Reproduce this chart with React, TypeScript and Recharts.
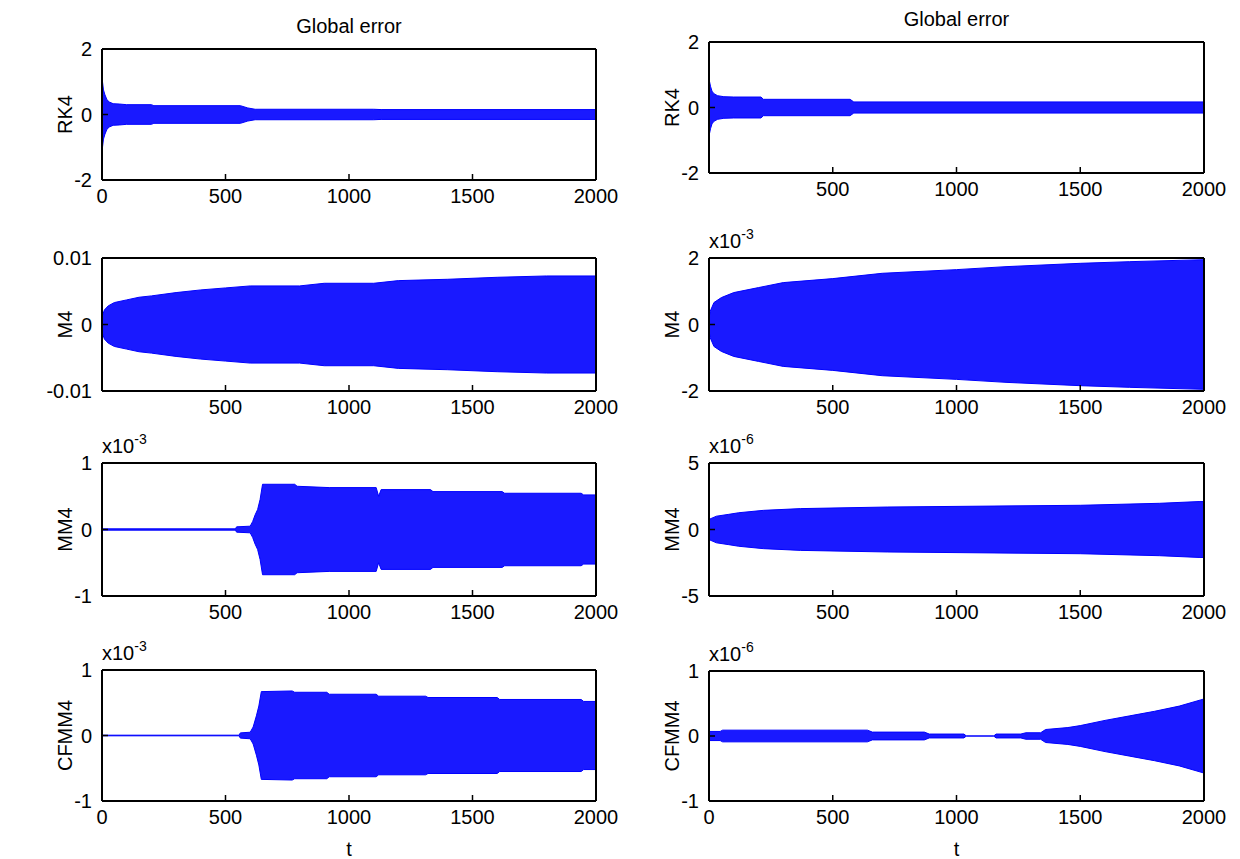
import { ComposedChart, Area, XAxis, YAxis, Label } from "recharts"

// envelope amplitude of the global error (values in axis units)
const tRk4Left = [0, 2, 6, 12, 20, 30, 45, 70, 100, 200, 210, 560, 590, 620, 1100, 1130, 2000]
const aRk4Left = [1.15, 1.0, 0.75, 0.6, 0.45, 0.38, 0.33, 0.32, 0.3, 0.3, 0.27, 0.27, 0.2, 0.16, 0.16, 0.15, 0.15]

const tRk4Right = [0, 2, 6, 12, 20, 35, 60, 100, 210, 220, 570, 585, 2000]
const aRk4Right = [0.9, 0.8, 0.65, 0.5, 0.42, 0.36, 0.33, 0.32, 0.32, 0.25, 0.25, 0.17, 0.17]

const tM4Left = [0, 10, 25, 50, 100, 150, 200, 300, 400, 500, 600, 800, 900, 1100, 1200, 1400, 1600, 1800, 2000]
const aM4Left = [0.0012, 0.0022, 0.0028, 0.0033, 0.0037, 0.0041, 0.0043, 0.0048, 0.0052, 0.0055, 0.0058, 0.0058, 0.0062, 0.0062, 0.0066, 0.0068, 0.0071, 0.0073, 0.0073]

const tM4Right = [0, 5, 20, 50, 100, 200, 300, 500, 700, 1000, 1200, 1500, 1700, 2000]
const aM4Right = [0.2, 0.4, 0.66, 0.81, 0.96, 1.11, 1.26, 1.38, 1.54, 1.65, 1.74, 1.84, 1.89, 1.95]

const tMm4Left = [0, 540, 545, 600, 610, 620, 630, 640, 650, 780, 790, 920, 1110, 1120, 1130, 1330, 1340, 1620, 1630, 1940, 1950, 2000]
const aMm4Left = [0.01, 0.01, 0.04, 0.05, 0.12, 0.22, 0.3, 0.45, 0.68, 0.68, 0.65, 0.63, 0.63, 0.5, 0.6, 0.6, 0.57, 0.57, 0.545, 0.545, 0.52, 0.52]

const tMm4Right = [0, 30, 80, 120, 220, 370, 720, 1500, 1820, 1980, 2000]
const aMm4Right = [0.76, 1.0, 1.14, 1.26, 1.44, 1.57, 1.69, 1.82, 1.97, 2.1, 2.1]

const tCfmm4Left = [0, 555, 560, 600, 612, 625, 635, 645, 770, 780, 910, 920, 1110, 1120, 1310, 1320, 1600, 1610, 1940, 1950, 2000]
const aCfmm4Left = [0.005, 0.005, 0.04, 0.05, 0.13, 0.3, 0.45, 0.67, 0.68, 0.66, 0.66, 0.63, 0.63, 0.6, 0.6, 0.58, 0.58, 0.55, 0.55, 0.52, 0.52]

const tCfmm4Right = [0, 45, 55, 640, 660, 870, 890, 1030, 1040, 1150, 1160, 1260, 1280, 1340, 1360, 1450, 1500, 1600, 1700, 1800, 1900, 2000]
const aCfmm4Right = [0.07, 0.07, 0.09, 0.09, 0.06, 0.06, 0.03, 0.03, 0, 0, 0.03, 0.03, 0.05, 0.05, 0.1, 0.13, 0.16, 0.24, 0.31, 0.38, 0.46, 0.57]

const xTicksFull = [0, 500, 1000, 1500, 2000]
const xTicksNoZero = [500, 1000, 1500, 2000]
const xTicksTop = [500, 1000, 1500]

const FONT = "'Liberation Sans', Arial, sans-serif"
const BLUE = "#0000ff"
const YAXIS_W = 74
const TOP = 45
const RIGHT = 35
const BOTTOM = 60

type PanelCfg = {
  x: number
  y: number
  w: number
  h: number
  t: number[]
  a: number[]
  domain: [number, number]
  yTicks: number[]
  yLabel: string
  xTicks: number[]
  title?: string
  exponent?: string
  xLabel?: string
}

const panels: PanelCfg[] = [
  { x: 102, y: 50, w: 493, h: 130, t: tRk4Left, a: aRk4Left, domain: [-2, 2], yTicks: [-2, 0, 2], yLabel: "RK4", xTicks: xTicksFull, title: "Global error" },
  { x: 709, y: 43, w: 494, h: 130, t: tRk4Right, a: aRk4Right, domain: [-2, 2], yTicks: [-2, 0, 2], yLabel: "RK4", xTicks: xTicksNoZero, title: "Global error" },
  { x: 102, y: 259, w: 493, h: 132, t: tM4Left, a: aM4Left, domain: [-0.01, 0.01], yTicks: [-0.01, 0, 0.01], yLabel: "M4", xTicks: xTicksNoZero },
  { x: 709, y: 259, w: 494, h: 132, t: tM4Right, a: aM4Right, domain: [-2, 2], yTicks: [-2, 0, 2], yLabel: "M4", xTicks: xTicksNoZero, exponent: "-3" },
  { x: 102, y: 464, w: 493, h: 132, t: tMm4Left, a: aMm4Left, domain: [-1, 1], yTicks: [-1, 0, 1], yLabel: "MM4", xTicks: xTicksNoZero, exponent: "-3" },
  { x: 709, y: 464, w: 494, h: 132, t: tMm4Right, a: aMm4Right, domain: [-5, 5], yTicks: [-5, 0, 5], yLabel: "MM4", xTicks: xTicksNoZero, exponent: "-6" },
  { x: 102, y: 671, w: 493, h: 130, t: tCfmm4Left, a: aCfmm4Left, domain: [-1, 1], yTicks: [-1, 0, 1], yLabel: "CFMM4", xTicks: xTicksFull, exponent: "-3", xLabel: "t" },
  { x: 709, y: 672, w: 494, h: 129, t: tCfmm4Right, a: aCfmm4Right, domain: [-1, 1], yTicks: [-1, 0, 1], yLabel: "CFMM4", xTicks: xTicksFull, exponent: "-6", xLabel: "t" },
]

function TopText({ viewBox, title, exponent }: any) {
  const { x, y, width, height } = viewBox
  const top = y + height
  return (
    <g>
      {title && (
        <text x={x + width / 2} y={top - 17} textAnchor="middle" fontSize={20} fill="#000" fontFamily={FONT}>
          {title}
        </text>
      )}
      {exponent && (
        <text x={x} y={top - 11} fontSize={20} fill="#000" fontFamily={FONT}>
          x10
          <tspan fontSize={14} dy={-9}>
            {exponent}
          </tspan>
        </text>
      )}
    </g>
  )
}

function BottomText({ viewBox, text }: any) {
  const { x, y, width } = viewBox
  return (
    <text x={x + width / 2} y={y + 55} textAnchor="middle" fontSize={20} fill="#000" fontFamily={FONT}>
      {text}
    </text>
  )
}

function Panel({ cfg }: { cfg: PanelCfg }) {
  const rows = cfg.t.map((t, i) => ({ t, band: [-cfg.a[i], cfg.a[i]] }))
  const axisLine = { stroke: "#000", strokeWidth: 2 }
  const tickLine = { stroke: "#000", strokeWidth: 1.5 }
  const tick = { fill: "#000", fontSize: 20, fontFamily: FONT }
  // the top x axis and right y axis take 1px each, so margins shrink by 1
  return (
    <div style={{ position: "absolute", left: cfg.x - YAXIS_W, top: cfg.y - TOP }}>
      <ComposedChart
        width={YAXIS_W + cfg.w + RIGHT}
        height={TOP + cfg.h + BOTTOM}
        data={rows}
        margin={{ top: TOP - 1, right: RIGHT - 1, bottom: 0, left: 0 }}
      >
        <XAxis
          xAxisId="b"
          dataKey="t"
          type="number"
          domain={[0, 2000]}
          ticks={cfg.xTicks}
          interval={0}
          allowDataOverflow
          height={BOTTOM}
          tickSize={-6}
          tickMargin={15}
          axisLine={axisLine}
          tickLine={tickLine}
          tick={tick}
        >
          {cfg.xLabel && <Label content={(p: any) => <BottomText {...p} text={cfg.xLabel} />} />}
        </XAxis>
        <XAxis
          xAxisId="t"
          orientation="top"
          mirror
          dataKey="t"
          type="number"
          domain={[0, 2000]}
          ticks={xTicksTop}
          interval={0}
          allowDataOverflow
          height={1}
          tickSize={6}
          axisLine={axisLine}
          tickLine={tickLine}
          tick={false}
        >
          {(cfg.title || cfg.exponent) && (
            <Label content={(p: any) => <TopText {...p} title={cfg.title} exponent={cfg.exponent} />} />
          )}
        </XAxis>
        <YAxis
          yAxisId="l"
          type="number"
          domain={cfg.domain}
          ticks={cfg.yTicks}
          interval={0}
          allowDataOverflow
          width={YAXIS_W}
          tickSize={-6}
          tickMargin={16}
          axisLine={axisLine}
          tickLine={tickLine}
          tick={tick}
        >
          <Label value={cfg.yLabel} position="center" angle={-90} style={{ fontSize: 20, fill: "#000", fontFamily: FONT }} />
        </YAxis>
        <YAxis
          yAxisId="r"
          orientation="right"
          mirror
          type="number"
          domain={cfg.domain}
          ticks={cfg.yTicks}
          interval={0}
          allowDataOverflow
          width={1}
          tickSize={6}
          axisLine={axisLine}
          tickLine={tickLine}
          tick={false}
        />
        <Area
          xAxisId="b"
          yAxisId="l"
          dataKey="band"
          type="linear"
          stroke={BLUE}
          strokeWidth={1}
          fill={BLUE}
          fillOpacity={0.9}
          dot={false}
          activeDot={false}
          isAnimationActive={false}
        />
      </ComposedChart>
    </div>
  )
}

export default function App() {
  return (
    <div style={{ position: "absolute", left: 0, top: 0, width: 1240, height: 859, background: "#fff", fontFamily: FONT }}>
      {panels.map((p, i) => (
        <Panel key={i} cfg={p} />
      ))}
    </div>
  )
}
